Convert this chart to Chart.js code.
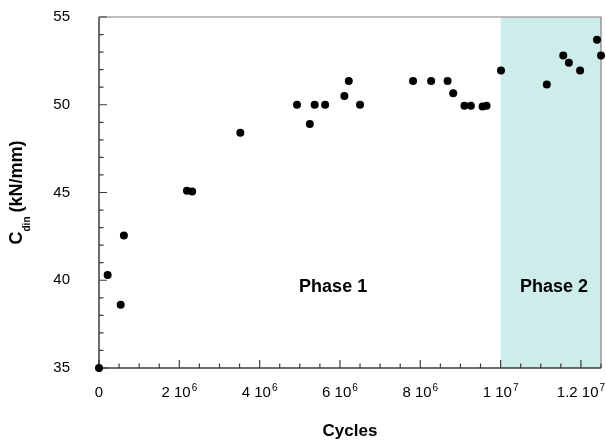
<!DOCTYPE html>
<html>
<head>
<meta charset="utf-8">
<script src="https://cdn.jsdelivr.net/npm/chart.js@4"></script>
<style>
  html, body { margin: 0; padding: 0; background: #fff; }
  #wrap { width: 606px; height: 441px; }
</style>
</head>
<body>
<div id="wrap"><canvas id="cdinChart" width="606" height="441"></canvas></div>
<script>
// C_din vs cycles
const cycles = [0, 0.215e6, 0.54e6, 0.62e6, 2.19e6, 2.32e6, 3.52e6, 4.93e6, 5.25e6, 5.37e6,
    5.63e6, 6.11e6, 6.22e6, 6.50e6, 7.82e6, 8.27e6, 8.68e6, 8.82e6, 9.10e6, 9.26e6,
    9.55e6, 9.65e6, 10.01e6, 11.15e6, 11.56e6, 11.70e6, 11.98e6, 12.40e6, 12.50e6];
const cdin = [35.0, 40.3, 38.6, 42.55, 45.1, 45.05, 48.4, 50.0, 48.9, 50.0,
    50.0, 50.5, 51.35, 50.0, 51.35, 51.35, 51.35, 50.65, 49.95, 49.95,
    49.9, 49.95, 51.95, 51.15, 52.8, 52.4, 51.95, 53.7, 52.8];

const yTickValues = [35, 40, 45, 50, 55];
const xTickValues = [0, 2e6, 4e6, 6e6, 8e6, 1e7, 1.2e7];
const xTickMantissa = ['0', '2 10', '4 10', '6 10', '8 10', '1 10', '1.2 10'];
const xTickExponent = ['', '6', '6', '6', '6', '7', '7'];

const phase2Start = 1e7;
const phaseLabels = ['Phase 1', 'Phase 2'];
const phaseLabelX = [5.83e6, 11.33e6];
const phaseLabelY = 39.6;

const FONT = "'Liberation Sans', Arial, Helvetica, sans-serif";

const decor = {
    id: 'decor',
    beforeDatasetsDraw(chart) {
        const { ctx, chartArea: a, scales: { x, y } } = chart;
        ctx.save();
        // phase 2 band
        const xs = x.getPixelForValue(phase2Start);
        ctx.fillStyle = '#cdedea';
        ctx.fillRect(xs, a.top, a.right - xs, a.bottom - a.top);

        // frame
        ctx.strokeStyle = '#808080';
        ctx.lineWidth = 1.2;
        ctx.beginPath();
        ctx.moveTo(a.left, a.top); ctx.lineTo(a.right, a.top); ctx.lineTo(a.right, a.bottom);
        ctx.stroke();
        ctx.strokeStyle = '#3c3c3c';
        ctx.lineWidth = 1.5;
        ctx.beginPath();
        ctx.moveTo(a.left, a.top); ctx.lineTo(a.left, a.bottom); ctx.lineTo(a.right, a.bottom);
        ctx.stroke();

        // inward ticks, minor every 1 / 0.5e6
        ctx.lineWidth = 1.2;
        ctx.beginPath();
        for (let v = 35; v <= 55; v += 1) {
            const py = y.getPixelForValue(v);
            const len = v % 5 === 0 ? 8 : 4.5;
            ctx.moveTo(a.left, py); ctx.lineTo(a.left + len, py);
        }
        for (let v = 0; v <= 12.5e6; v += 0.5e6) {
            const px = x.getPixelForValue(v);
            const len = v % 2e6 === 0 ? 8 : 4.5;
            ctx.moveTo(px, a.bottom); ctx.lineTo(px, a.bottom - len);
        }
        ctx.stroke();
        ctx.restore();
    },
    afterDraw(chart) {
        const { ctx, chartArea: a, scales: { x, y } } = chart;
        ctx.save();
        ctx.fillStyle = '#000';

        // y tick labels
        ctx.font = '15px ' + FONT;
        ctx.textAlign = 'right';
        ctx.textBaseline = 'middle';
        yTickValues.forEach(v => ctx.fillText(String(v), 70, y.getPixelForValue(v)));

        // x tick labels with superscript exponent
        ctx.textBaseline = 'alphabetic';
        xTickValues.forEach((v, i) => {
            ctx.font = '15px ' + FONT;
            const wm = ctx.measureText(xTickMantissa[i]).width;
            ctx.font = '10px ' + FONT;
            const we = xTickExponent[i] ? ctx.measureText(xTickExponent[i]).width + 1 : 0;
            const left = x.getPixelForValue(v) - (wm + we) / 2;
            ctx.textAlign = 'left';
            ctx.font = '15px ' + FONT;
            ctx.fillText(xTickMantissa[i], left, 397);
            if (xTickExponent[i]) {
                ctx.font = '10px ' + FONT;
                ctx.fillText(xTickExponent[i], left + wm + 1, 391);
            }
        });

        // x title
        ctx.textAlign = 'center';
        ctx.font = 'bold 17px ' + FONT;
        ctx.fillText('Cycles', (a.left + a.right) / 2, 436);

        // phase labels
        ctx.font = 'bold 18px ' + FONT;
        ctx.textBaseline = 'middle';
        phaseLabels.forEach((t, i) => {
            ctx.fillText(t, x.getPixelForValue(phaseLabelX[i]), y.getPixelForValue(phaseLabelY));
        });

        // y title: C_din (kN/mm), rotated
        ctx.translate(22, (a.top + a.bottom) / 2);
        ctx.rotate(-Math.PI / 2);
        ctx.textBaseline = 'alphabetic';
        ctx.textAlign = 'left';
        ctx.font = 'bold 18px ' + FONT;
        const wC = ctx.measureText('C').width;
        const wRest = ctx.measureText('(kN/mm)').width;
        ctx.font = 'bold 10px ' + FONT;
        const wSub = ctx.measureText('din').width;
        const total = wC + wSub + 4 + wRest;
        let cx = -total / 2;
        ctx.font = 'bold 18px ' + FONT;
        ctx.fillText('C', cx, 0);
        cx += wC;
        ctx.font = 'bold 10px ' + FONT;
        ctx.fillText('din', cx, 8);
        cx += wSub + 4;
        ctx.font = 'bold 18px ' + FONT;
        ctx.fillText('(kN/mm)', cx, 0);
        ctx.restore();
    }
};

new Chart(document.getElementById('cdinChart').getContext('2d'), {
    type: 'scatter',
    data: {
        datasets: [{
            label: 'Cdin',
            data: cycles.map((c, i) => ({ x: c, y: cdin[i] })),
            backgroundColor: '#000',
            borderWidth: 0,
            pointRadius: 4,
            pointHoverRadius: 4,
            clip: false
        }]
    },
    options: {
        responsive: false,
        animation: false,
        events: [],
        layout: { padding: { top: 17, right: 5, left: 0, bottom: 0 } },
        plugins: {
            legend: { display: false },
            tooltip: { enabled: false }
        },
        scales: {
            x: {
                type: 'linear',
                min: 0,
                max: 12.5e6,
                grid: { display: false, drawTicks: false },
                border: { display: false },
                ticks: { display: false },
                afterFit(scale) { scale.height = 73; }
            },
            y: {
                min: 35,
                max: 55,
                grid: { display: false, drawTicks: false },
                border: { display: false },
                ticks: { display: false },
                afterFit(scale) { scale.width = 99; }
            }
        }
    },
    plugins: [decor]
});
</script>
</body>
</html>
